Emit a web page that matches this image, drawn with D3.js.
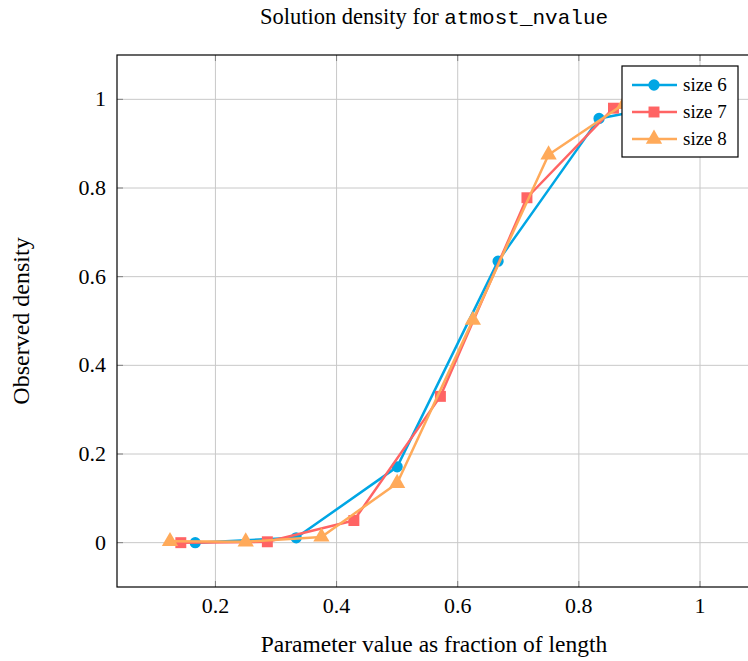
<!DOCTYPE html>
<html>
<head>
<meta charset="utf-8">
<script src="https://cdn.jsdelivr.net/npm/d3@7"></script>
<style>
  body { margin: 0; background: #fff; }
  svg { display: block; }
  svg text { font-family: "Liberation Serif", "Times New Roman", Times, serif; }
</style>
</head>
<body>
<div id="chart"></div>
<script>
// data
const seriesNames = ["size 6", "size 7", "size 8"];
const x6 = [1/6, 2/6, 3/6, 4/6, 5/6, 1];
const y6 = [0, 0.011, 0.171, 0.635, 0.957, 1.0];
const x7 = [1/7, 2/7, 3/7, 4/7, 5/7, 6/7, 1];
const y7 = [0, 0.002, 0.05, 0.33, 0.778, 0.98, 1.0];
const x8 = [1/8, 2/8, 3/8, 4/8, 5/8, 6/8, 7/8, 1];
const y8 = [0.003, 0.002, 0.013, 0.134, 0.502, 0.875, 0.99, 1.0];
const xTicks = [0.2, 0.4, 0.6, 0.8, 1];
const yTicks = [0, 0.2, 0.4, 0.6, 0.8, 1];

const W = 748, H = 661;
const plot = { left: 117, top: 55, right: 753, bottom: 587 };
const serif = "Liberation Serif";
const mono = "Liberation Mono";

const colors = ["#00a6e4", "#ff6464", "#ffaa5a"];
const shapes = [d3.symbolCircle, d3.symbolSquare, d3.symbolTriangle];
const sizes = [100, 120, 115];

const svg = d3.select("#chart").append("svg")
    .attr("width", W).attr("height", H);

const x = d3.scaleLinear().domain([0.0375, 1.0875]).range([plot.left, plot.right]);
const y = d3.scaleLinear().domain([-0.1, 1.1]).range([plot.bottom, plot.top]);

svg.append("defs").append("clipPath").attr("id", "clip")
  .append("rect")
  .attr("x", plot.left).attr("y", plot.top)
  .attr("width", plot.right - plot.left).attr("height", plot.bottom - plot.top);

// Grid
const grid = svg.append("g");
grid.selectAll(".gx").data(xTicks).enter().append("line")
    .attr("x1", d => x(d)).attr("x2", d => x(d))
    .attr("y1", plot.top).attr("y2", plot.bottom)
    .attr("stroke", "#c8c8c8").attr("stroke-width", 1);
grid.selectAll(".gy").data(yTicks).enter().append("line")
    .attr("x1", plot.left).attr("x2", plot.right)
    .attr("y1", d => y(d)).attr("y2", d => y(d))
    .attr("stroke", "#c8c8c8").attr("stroke-width", 1);

// Inward tick marks
const tk = svg.append("g").attr("stroke", "#808080").attr("stroke-width", 1);
tk.selectAll(".tx").data(xTicks).enter().append("line")
    .attr("x1", d => x(d)).attr("x2", d => x(d))
    .attr("y1", plot.bottom).attr("y2", plot.bottom - 6);
tk.selectAll(".tx2").data(xTicks).enter().append("line")
    .attr("x1", d => x(d)).attr("x2", d => x(d))
    .attr("y1", plot.top).attr("y2", plot.top + 6);
tk.selectAll(".ty").data(yTicks).enter().append("line")
    .attr("x1", plot.left).attr("x2", plot.left + 6)
    .attr("y1", d => y(d)).attr("y2", d => y(d));

// Series
const data = [[x6, y6], [x7, y7], [x8, y8]];
const line = d3.line().x(d => x(d[0])).y(d => y(d[1]));
const plotG = svg.append("g").attr("clip-path", "url(#clip)");

data.forEach(([xs, ys], i) => {
    const pts = xs.map((v, j) => [v, ys[j]]);
    plotG.append("path")
        .datum(pts)
        .attr("d", line)
        .attr("fill", "none")
        .attr("stroke", colors[i])
        .attr("stroke-width", 2.5)
        .attr("stroke-linejoin", "round");
    plotG.selectAll(".m" + i).data(pts).enter().append("path")
        .attr("d", d3.symbol().type(shapes[i]).size(sizes[i]))
        .attr("transform", d => `translate(${x(d[0])},${y(d[1])})`)
        .attr("fill", colors[i]);
});

// Frame
svg.append("rect")
    .attr("x", plot.left).attr("y", plot.top)
    .attr("width", plot.right - plot.left).attr("height", plot.bottom - plot.top)
    .attr("fill", "none").attr("stroke", "#000").attr("stroke-width", 1.2);

// Tick labels
svg.selectAll(".xl").data(xTicks).enter().append("text")
    .attr("x", d => x(d)).attr("y", 613)
    .attr("text-anchor", "middle")
    .style("font-family", serif)
    .style("font-size", "22px")
    .text(d => d3.format("")(d));
svg.selectAll(".yl").data(yTicks).enter().append("text")
    .attr("x", 106).attr("y", d => y(d) + 7)
    .attr("text-anchor", "end")
    .style("font-family", serif)
    .style("font-size", "22px")
    .text(d => d3.format("")(d));

// Axis titles
svg.append("text")
    .attr("x", 434).attr("y", 652)
    .attr("text-anchor", "middle")
    .style("font-family", serif)
    .style("font-size", "23.5px")
    .text("Parameter value as fraction of length");
svg.append("text")
    .attr("transform", "translate(29,321) rotate(-90)")
    .attr("text-anchor", "middle")
    .style("font-family", serif)
    .style("font-size", "24px")
    .text("Observed density");

// Title
const title = svg.append("text")
    .attr("x", 434).attr("y", 24)
    .attr("text-anchor", "middle")
    .style("font-family", serif)
    .style("font-size", "22.5px");
title.append("tspan").text("Solution density for ");
title.append("tspan").style("font-family", mono).style("font-size", "21px").text("atmost_nvalue");

// Legend
const lg = svg.append("g").attr("transform", "translate(622,66)");
lg.append("rect")
    .attr("width", 116).attr("height", 91)
    .attr("fill", "#fff").attr("stroke", "#000").attr("stroke-width", 1.2);
seriesNames.forEach((name, i) => {
    const ly = 19 + i * 27;
    lg.append("line")
        .attr("x1", 10).attr("x2", 55)
        .attr("y1", ly).attr("y2", ly)
        .attr("stroke", colors[i]).attr("stroke-width", 2.5);
    lg.append("path")
        .attr("d", d3.symbol().type(shapes[i]).size(sizes[i]))
        .attr("transform", `translate(32,${ly})`)
        .attr("fill", colors[i]);
    lg.append("text")
        .attr("x", 61).attr("y", ly + 6)
        .style("font-family", serif)
        .style("font-size", "19px")
        .text(name);
});
</script>
</body>
</html>
